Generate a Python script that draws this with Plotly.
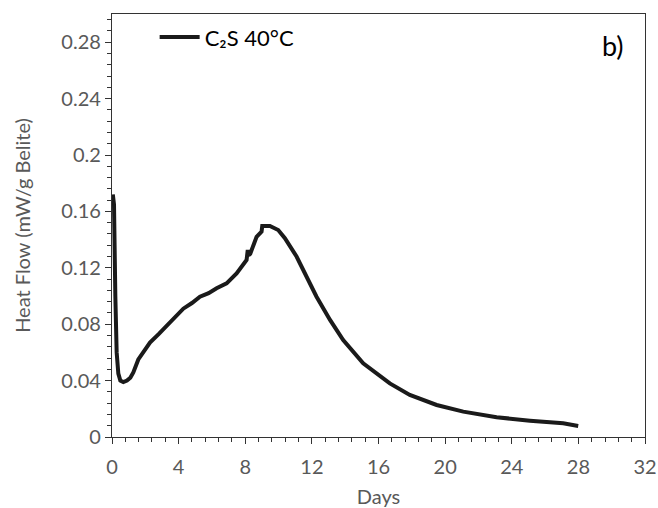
import plotly.graph_objects as go

days = [0.05, 0.12, 0.2, 0.28, 0.38, 0.5, 0.68, 0.9, 1.1, 1.28,
        1.58, 1.9, 2.28, 2.8, 3.28, 3.8, 4.28, 4.8, 5.28, 5.8,
        6.28, 6.88, 7.48, 8.08, 8.15, 8.2, 8.3, 8.68, 8.98, 9.02,
        9.48, 9.98, 10.38, 11.08, 12.28, 13.09, 13.88, 15.08, 16.68, 17.88,
        19.49, 21.09, 23.09, 25.09, 27.09, 27.99]
heat_flow = [0.172, 0.165, 0.10, 0.06, 0.045, 0.040, 0.039, 0.040, 0.042, 0.0458,
             0.055, 0.061, 0.067, 0.073, 0.079, 0.085, 0.091, 0.095, 0.0995, 0.102,
             0.1055, 0.109, 0.116, 0.1255, 0.1326, 0.129, 0.130, 0.142, 0.1456, 0.1496,
             0.1496, 0.1468, 0.141, 0.128, 0.0995, 0.083, 0.0688, 0.0523, 0.038, 0.0298,
             0.0227, 0.018, 0.014, 0.0116, 0.0097, 0.0078]

x_ticks = [0, 4, 8, 12, 16, 20, 24, 28, 32]
y_ticks = [0, 0.04, 0.08, 0.12, 0.16, 0.2, 0.24, 0.28]
y_tick_labels = ["0", "0.04", "0.08", "0.12", "0.16", "0.2", "0.24", "0.28"]

series_name = "C₂S 40°C"
panel_label = "b)"

font_family = "Lato, 'Open Sans', sans-serif"
gray = "#595959"

fig = go.Figure()
fig.add_trace(go.Scatter(x=days, y=heat_flow, mode="lines", name=series_name,
                         line=dict(color="#1a1a1a", width=4)))

axis_common = dict(
    showgrid=False, zeroline=False, showline=True, linecolor="#333333", linewidth=1.3,
    mirror=True, ticks="outside", ticklen=6, tickwidth=1.3, tickcolor="#333333",
    tickfont=dict(family=font_family, size=20, color=gray), automargin=False,
)

fig.update_xaxes(range=[0, 32], tickvals=x_ticks, ticklabelstandoff=6,
                 minor=dict(dtick=0.8, ticks="outside", ticklen=4, tickwidth=1, tickcolor="#333333"),
                 title=dict(text="Days", font=dict(family=font_family, size=20, color=gray), standoff=12),
                 **axis_common)
fig.update_yaxes(range=[0, 0.30], tickvals=y_ticks, ticktext=y_tick_labels,
                 minor=dict(dtick=0.008, ticks="outside", ticklen=4, tickwidth=1, tickcolor="#333333"),
                 title=dict(text="Heat Flow (mW/g Belite)", font=dict(family=font_family, size=20, color=gray), standoff=25),
                 **axis_common)

fig.add_annotation(x=0.965, y=0.925, xref="paper", yref="paper", text=panel_label,
                   showarrow=False, xanchor="right", yanchor="middle",
                   font=dict(family=font_family, size=27, color="#000000"))

fig.update_layout(
    width=658, height=508,
    margin=dict(l=112, r=13, t=14, b=71),
    paper_bgcolor="white", plot_bgcolor="white",
    showlegend=True,
    legend=dict(x=0.08, y=0.995, xanchor="left", yanchor="top", bgcolor="rgba(0,0,0,0)",
                font=dict(family=font_family, size=22, color="#000000"), itemwidth=40),
)

# remove the default page margin so the figure fills the 658x508 window exactly
fig.write_html("out.html",
               config={"displayModeBar": False},
               post_script="document.body.style.margin='0';document.body.style.overflow='hidden';")
